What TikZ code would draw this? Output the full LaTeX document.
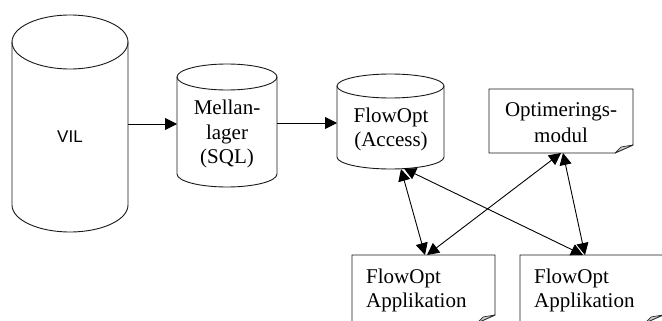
\documentclass[tikz,border=0pt]{standalone}
\usepackage{fontspec}
\setmainfont{Liberation Serif}
\newfontfamily\arialfont{Liberation Sans}
\usetikzlibrary{arrows.meta,calc}
\begin{document}
\begin{tikzpicture}[x=1pt,y=1pt,
  outline/.style={draw=black!90, line width=0.9pt},
  tip/.tip={Triangle[length=12pt,width=12pt]},
  conn/.style={line width=0.9pt, -tip},
  biconn/.style={line width=0.9pt, tip-tip},
  foldc/.style={fill=black!18, draw=black!85, line width=0.7pt, line join=round},
  txt/.style={font=\fontsize{21}{24.5}\selectfont, align=center, inner sep=0pt},
  apptxt/.style={font=\fontsize{21}{24}\selectfont, align=left, inner sep=0pt, anchor=north west}]
\useasboundingbox (0,0) rectangle (662,-321);
\clip (0,0) rectangle (662,-321);

% VIL cylinder
\draw[outline] (12,-42) -- (12,-205) arc[start angle=180,end angle=360,x radius=58,y radius=27] -- (128,-42);
\draw[outline] (70,-42) ellipse[x radius=58,y radius=27];
\node[inner sep=0pt, font=\arialfont\fontsize{17}{20}\selectfont] (vil) at (70,-136.9) {VIL};

% Mellanlager cylinder
\draw[outline] (177,-77) -- (177,-174) arc[start angle=180,end angle=360,x radius=50,y radius=13] -- (277,-77);
\draw[outline] (227,-77) ellipse[x radius=50,y radius=13];
\node[txt] (mel) at (227,-134.3) {Mellan-\\lager\\(SQL)};

% FlowOpt (Access) cylinder
\draw[outline] (337,-86) -- (337,-157) arc[start angle=180,end angle=360,x radius=53.5,y radius=12] -- (444,-86);
\draw[outline] (390.5,-86) ellipse[x radius=53.5,y radius=12];
\node[txt, font=\fontsize{21}{23.5}\selectfont] (fo) at (391,-129.5) {FlowOpt\\(Access)};

% Optimeringsmodul box
\draw[outline, line join=miter] (633,-145) -- (633,-89) -- (489,-89) -- (489,-153) -- (615,-153) -- cycle;
\draw[foldc] (615,-153) -- (621,-147) -- (633,-145) -- cycle;
\node[txt, font=\fontsize{21}{25.5}\selectfont] (opt) at (561,-122.6) {Optimerings-\\modul};

% Application boxes
\draw[outline] (495,-315) -- (495,-255) -- (352,-255) -- (352,-323) -- (477,-323) -- cycle;
\draw[foldc] (477,-323) -- (483,-317) -- (495,-315) -- cycle;
\node[apptxt] (app1) at (366,-268.7) {FlowOpt\\Applikation};

\draw[outline] (663,-315) -- (663,-255) -- (520,-255) -- (520,-323) -- (645,-323) -- cycle;
\draw[foldc] (645,-323) -- (651,-317) -- (663,-315) -- cycle;
\node[apptxt] (app2) at (534,-268.7) {FlowOpt\\Applikation};

% connector end points
\coordinate (vilR) at (128,-124);
\coordinate (melL) at (177,-124);
\coordinate (melR) at (277,-123);
\coordinate (foL) at (337,-123);
\coordinate (foB1) at (401,-169);
\coordinate (foB2) at (404,-168.5);
\coordinate (optB1) at (561,-153);
\coordinate (optB2) at (563,-153);
\coordinate (app1T1) at (425,-255);
\coordinate (app1T2) at (427,-255);
\coordinate (app2T1) at (583,-255);
\coordinate (app2T2) at (585,-255);

\draw[conn] (vilR) -- (melL);
\draw[conn] (melR) -- (foL);
\draw[biconn] (foB1) -- (app1T1);
\draw[biconn] (foB2) -- (app2T1);
\draw[biconn] (optB1) -- (app1T2);
\draw[biconn] (optB2) -- (app2T2);
\end{tikzpicture}
\end{document}
